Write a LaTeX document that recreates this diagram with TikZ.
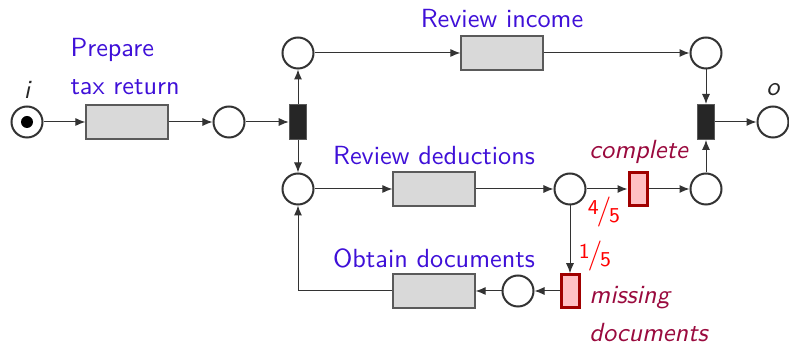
\documentclass[tikz,border=0pt]{standalone}
\usetikzlibrary{arrows.meta}
\definecolor{lblue}{HTML}{3F10D8}
\definecolor{lmaroon}{HTML}{9A0A3E}
\definecolor{edgec}{HTML}{333333}
\definecolor{boxfill}{HTML}{D9D9D9}
\definecolor{boxdraw}{HTML}{5A5A5A}
\definecolor{tfill}{HTML}{262626}
\definecolor{pinkfill}{HTML}{FFC0C4}
\definecolor{dred}{HTML}{A00000}
\tikzset{
  place/.style={circle,draw=edgec,line width=0.8pt,minimum size=12.4pt,inner sep=0pt,fill=white},
  task/.style={rectangle,draw=boxdraw,line width=0.5pt,fill=boxfill,minimum width=32.8pt,minimum height=13.6pt,inner sep=0pt},
  blackt/.style={rectangle,draw=boxdraw,line width=0.4pt,fill=tfill,minimum width=7pt,minimum height=14pt,inner sep=0pt},
  redt/.style={rectangle,draw=dred,line width=1.2pt,fill=pinkfill,minimum width=7.2pt,minimum height=13pt,inner sep=0pt},
  arc/.style={draw=edgec,line width=0.4pt,-{Latex[length=4pt,width=3.2pt]}},
  blab/.style={text=lblue,font=\sffamily\fontsize{10.5}{12}\selectfont,inner sep=0pt},
  mlab/.style={text=lmaroon,font=\sffamily\itshape\fontsize{10.5}{12}\selectfont,inner sep=0pt},
  plab/.style={text=black!85,font=\sffamily\itshape\fontsize{10.5}{12}\selectfont,inner sep=0pt},
  flab/.style={text=red,font=\sffamily\fontsize{8.5}{9}\selectfont,inner sep=0pt}
}
\newcommand{\myfrac}[2]{\raisebox{0.55ex}{#1}\kern-0.1em{\fontsize{12}{12}\selectfont/}\kern-0.1em\raisebox{-0.3ex}{#2}}
\begin{document}
\begin{tikzpicture}[x=0.4pt,y=-0.4pt]
\useasboundingbox (0,0) rectangle (789,345);
% places
\node[place] (pi) at (27,122) {};
\fill[black] (pi.center) circle (2.4pt);
\node[place] (p1) at (229,122) {};
\node[place] (p2) at (298,53) {};
\node[place] (p3) at (298,189) {};
\node[place] (p4) at (706,53) {};
\node[place] (p5) at (570,189) {};
\node[place] (p6) at (706,189) {};
\node[place] (p7) at (518,291) {};
\node[place] (po) at (773,122) {};
% tasks
\node[task] (prep) at (127,122) {};
\node[task] (inc) at (502,53) {};
\node[task] (ded) at (434,189) {};
\node[task] (obt) at (434,291) {};
% transitions
\node[blackt] (fork) at (298,122) {};
\node[blackt] (join) at (706,122) {};
\node[redt] (comp) at (638,189) {};
\node[redt] (miss) at (570,291) {};
\coordinate (corner) at (298,291);
% arcs
\draw[arc] (pi) -- (prep);
\draw[arc] (prep) -- (p1);
\draw[arc] (p1) -- (fork);
\draw[arc] (fork) -- (p2);
\draw[arc] (fork) -- (p3);
\draw[arc] (p2) -- (inc);
\draw[arc] (inc) -- (p4);
\draw[arc] (p4) -- (join);
\draw[arc] (join) -- (po);
\draw[arc] (p3) -- (ded);
\draw[arc] (ded) -- (p5);
\draw[arc] (p5) -- (comp);
\draw[arc] (comp) -- (p6);
\draw[arc] (p6) -- (join);
\draw[arc] (p5) -- (miss);
\draw[arc] (miss) -- (p7);
\draw[arc] (p7) -- (obt);
\draw[arc] (obt.west) -- (corner) -- (p3);
% labels
\node[plab] (li) at (27,90) {i};
\node[plab] (lo) at (773,90) {o};
\node[blab,anchor=west] (l1) at (70,50) {Prepare};
\node[blab,anchor=west] (l2) at (70,87) {tax return};
\node[blab] (l3) at (502,19) {Review income};
\node[blab] (l4) at (434,156) {Review deductions};
\node[blab] (l5) at (434,258) {Obtain documents};
\node[mlab,anchor=west] (l6) at (589,152) {complete};
\node[mlab,anchor=west] (l7) at (589,298) {missing};
\node[mlab,anchor=west] (l8) at (589,333) {documents};
\node[flab] (f1) at (604,212) {\myfrac{4}{5}};
\node[flab] (f2) at (595,256) {\myfrac{1}{5}};
\end{tikzpicture}
\end{document}
